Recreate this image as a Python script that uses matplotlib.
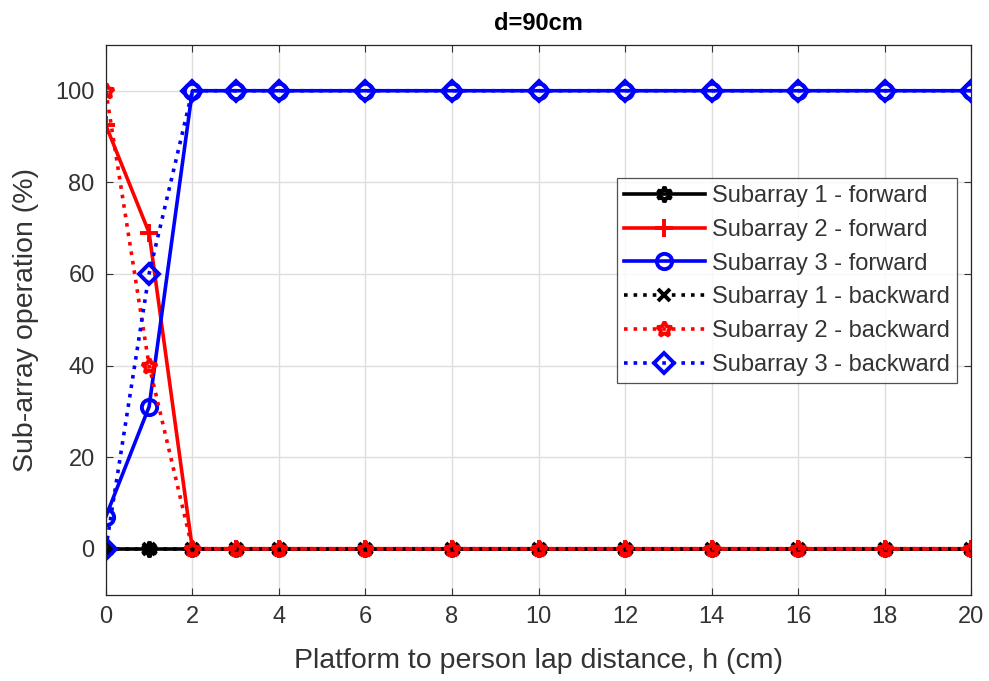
import matplotlib
matplotlib.use("Agg")
import matplotlib.pyplot as plt

plt.rcParams['font.family'] = ['Liberation Sans', 'DejaVu Sans']

h = [0, 1, 2, 3, 4, 6, 8, 10, 12, 14, 16, 18, 20]
s1_fwd = [0, 0, 0, 0, 0, 0, 0, 0, 0, 0, 0, 0, 0]
s2_fwd = [92.5, 69, 0, 0, 0, 0, 0, 0, 0, 0, 0, 0, 0]
s3_fwd = [7, 31, 100, 100, 100, 100, 100, 100, 100, 100, 100, 100, 100]
s1_bwd = [0, 0, 0, 0, 0, 0, 0, 0, 0, 0, 0, 0, 0]
s2_bwd = [100, 40, 0, 0, 0, 0, 0, 0, 0, 0, 0, 0, 0]
s3_bwd = [0, 60, 100, 100, 100, 100, 100, 100, 100, 100, 100, 100, 100]
xticks = [0, 2, 4, 6, 8, 10, 12, 14, 16, 18, 20]
yticks = [0, 20, 40, 60, 80, 100]
labels = ['Subarray 1 - forward', 'Subarray 2 - forward', 'Subarray 3 - forward',
          'Subarray 1 - backward', 'Subarray 2 - backward', 'Subarray 3 - backward']

fig = plt.figure(figsize=(9.89, 6.81), dpi=100)
ax = fig.add_axes([0.107, 0.127, 0.875, 0.807])

series = [
    (s1_fwd, 'black', '-', (6, 1, 0), 11),
    (s2_fwd, 'red', '-', '+', 13),
    (s3_fwd, 'blue', '-', 'o', 11),
    (s1_bwd, 'black', ':', 'x', 9),
    (s2_bwd, 'red', ':', (5, 1, 0), 11),
    (s3_bwd, 'blue', ':', 'D', 10),
]
for (y, c, ls, m, ms), lab in zip(series, labels):
    ax.plot(h, y, color=c, linestyle=ls, marker=m, linewidth=2.6,
            markersize=ms, markeredgewidth=2.8, fillstyle='none', label=lab)

ax.set_xlim(0, 20)
ax.set_ylim(-10, 110)
ax.set_xticks(xticks)
ax.set_yticks(yticks)
ax.grid(True, color='#dedede', linewidth=1.0)
ax.set_axisbelow(True)
ax.tick_params(direction='in', colors='#333333', labelsize=17, length=5, top=True, right=True,
               labeltop=False, labelright=False, pad=8)
for s in ax.spines.values():
    s.set_color('#262626')
    s.set_linewidth(0.9)
ax.set_xlabel('Platform to person lap distance, h (cm)', fontsize=20.5, color='#333333', labelpad=15)
ax.set_ylabel('Sub-array operation (%)', fontsize=20.5, color='#333333', labelpad=12)
ax.set_title('d=90cm', fontsize=17, fontweight='bold', color='black', pad=11)

leg = ax.legend(loc='upper left', bbox_to_anchor=(0.591, 0.758), fontsize=17, frameon=True,
                fancybox=False, edgecolor='#262626', handlelength=3.4, handletextpad=0.3,
                borderpad=0.3, labelspacing=0.5, borderaxespad=0)
leg.get_frame().set_linewidth(0.9)
for t in leg.get_texts():
    t.set_color('#333333')

fig.savefig('out.png', dpi=100)
